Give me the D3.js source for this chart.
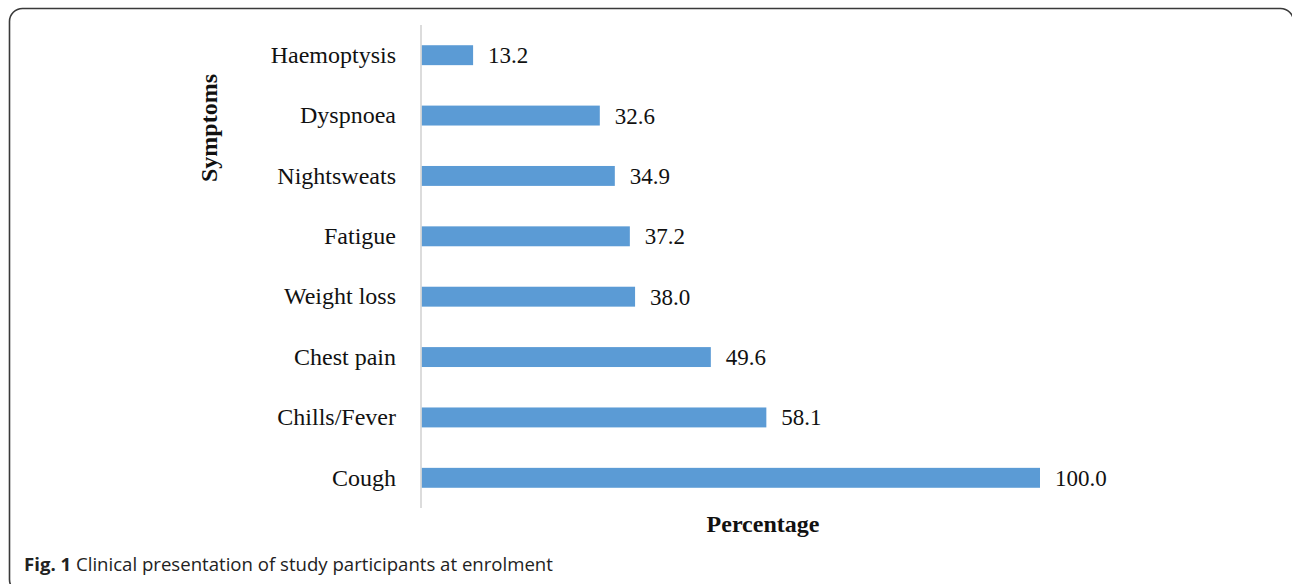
<!DOCTYPE html>
<html>
<head>
<meta charset="utf-8">
<script src="https://cdn.jsdelivr.net/npm/d3@7"></script>
<style>
  html, body { margin: 0; padding: 0; background: #fff; }
  svg { display: block; }
</style>
</head>
<body>
<svg id="chart" width="1292" height="584"></svg>
<script>
const categories = ["Haemoptysis", "Dyspnoea", "Nightsweats", "Fatigue", "Weight loss", "Chest pain", "Chills/Fever", "Cough"];
const values = [13.2, 32.6, 34.9, 37.2, 38.0, 49.6, 58.1, 100.0];
const valueLabels = ["13.2", "32.6", "34.9", "37.2", "38.0", "49.6", "58.1", "100.0"];
const xAxisTitle = "Percentage";
const yAxisTitle = "Symptoms";
const captionBold = "Fig. 1";
const captionText = " Clinical presentation of study participants at enrolment";
const xDomain = [5.3, 100];

const svg = d3.select("#chart");

// frame
svg.append("rect")
  .attr("x", 9.5).attr("y", 8.5)
  .attr("width", 1284).attr("height", 584)
  .attr("rx", 13).attr("ry", 13)
  .attr("fill", "none").attr("stroke", "#3a3a3a").attr("stroke-width", 1.6);

const x = d3.scaleLinear().domain(xDomain).range([421.5, 1040]);
const y = d3.scaleBand().domain(categories).range([25, 508])
  .paddingInner(0.67).paddingOuter(0.335);

const serif = "'Liberation Serif', 'Times New Roman', serif";

// bars
svg.append("g").selectAll("rect")
  .data(categories)
  .join("rect")
  .attr("x", x(xDomain[0]))
  .attr("y", d => y(d))
  .attr("width", (d, i) => x(values[i]) - x(xDomain[0]))
  .attr("height", y.bandwidth())
  .attr("fill", "#5b9bd5");

// y axis
const yAxis = d3.axisLeft(y).tickSize(0).tickPadding(25);
const gy = svg.append("g").attr("transform", "translate(421,0)").call(yAxis);
gy.select(".domain").attr("stroke", "#d0d0d0").attr("stroke-width", 1.5)
  .attr("d", "M0,25V508");
gy.selectAll("text")
  .attr("font-family", serif).attr("font-size", 24).attr("fill", "#111");

// value labels
svg.append("g").selectAll("text")
  .data(categories)
  .join("text")
  .attr("x", (d, i) => x(values[i]) + 15)
  .attr("y", d => y(d) + y.bandwidth() / 2)
  .attr("dy", "0.35em")
  .attr("font-family", serif).attr("font-size", 23).attr("fill", "#111")
  .text((d, i) => valueLabels[i]);

// axis titles
svg.append("text")
  .attr("x", 763).attr("y", 532)
  .attr("text-anchor", "middle")
  .attr("font-family", serif).attr("font-size", 24).attr("font-weight", "bold")
  .attr("fill", "#111")
  .text(xAxisTitle);

svg.append("text")
  .attr("transform", "translate(217,128) rotate(-90)")
  .attr("text-anchor", "middle")
  .attr("font-family", serif).attr("font-size", 24).attr("font-weight", "bold")
  .attr("fill", "#111")
  .text(yAxisTitle);

// caption
const cap = svg.append("text")
  .attr("x", 24).attr("y", 571)
  .attr("font-family", "'Open Sans', 'Noto Sans', sans-serif").attr("font-size", 18.6)
  .attr("fill", "#222");
cap.append("tspan").attr("font-weight", "bold").text(captionBold);
cap.append("tspan").text(captionText);
</script>
</body>
</html>
